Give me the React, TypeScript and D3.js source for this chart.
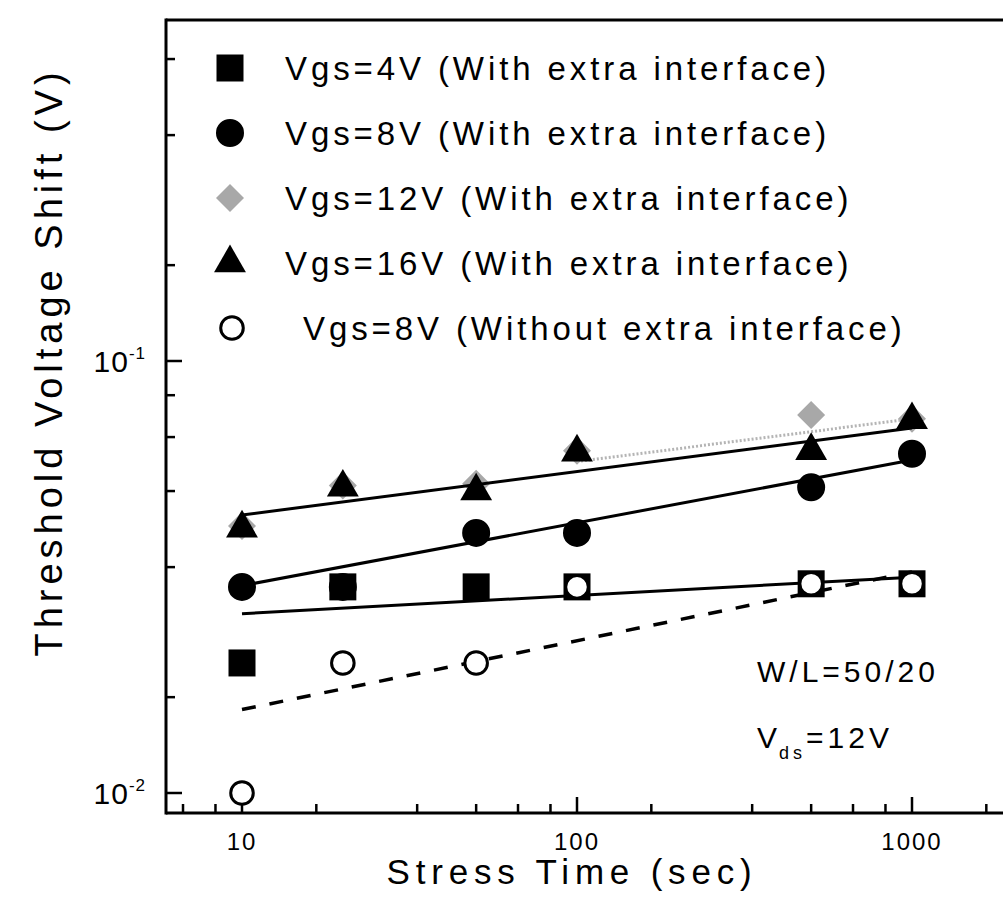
import React from 'react';
import * as d3 from 'd3';

// stress times (sec) and measured threshold voltage shift (V)
const stressTimes = [10, 20, 50, 100, 500, 1000];
const vgs4With = [0.020, 0.030, 0.030, 0.030, 0.0305, 0.0305];
const vgs8With = [0.030, 0.030, 0.040, 0.040, 0.051, 0.061];
const vgs12With = [0.0415, 0.0515, 0.052, 0.062, 0.075, 0.0735];
const vgs16With = [0.041, 0.051, 0.050, 0.0615, 0.062, 0.0731];
const vgs8Without = [0.010, 0.020, 0.020, 0.030, 0.0305, 0.0305];

// power-law fit lines, end points
const fitTimes = [10, 1000];
const fit12Times = [100, 1000];
const fit4With = [0.026, 0.0316];
const fit8With = [0.0302, 0.059];
const fit12With = [0.0585, 0.0735];
const fit16With = [0.044, 0.070];
const fit8Without = [0.0156, 0.0325];

const xMajorTicks = [10, 100, 1000];
const xTickLabels = ['10', '100', '1000'];
const yMajorTicks = [0.01, 0.1];
const yTickExponents = ['-2', '-1'];
const minorFactors = [10 / 6, 20 / 6, 30 / 6, 40 / 6, 50 / 6];

const legendLabels = [
  'Vgs=4V (With extra interface)',
  'Vgs=8V (With extra interface)',
  'Vgs=12V (With extra interface)',
  'Vgs=16V (With extra interface)',
  'Vgs=8V (Without extra interface)',
];

const W = 1003;
const H = 905;
const box = {left: 166, right: 1010, top: 20, bottom: 813};
const font = '"Liberation Sans", Arial, sans-serif';

const x = d3.scaleLog().domain([10, 1000]).range([242, 912]);
const y = d3.scaleLog().domain([0.01, 0.1]).range([793, 361]);

const sym = (type: d3.SymbolType, size: number) => d3.symbol().type(type).size(size)() as string;
const squarePath = sym(d3.symbolSquare, 729);
const circlePath = sym(d3.symbolCircle, 616);
const openCirclePath = sym(d3.symbolCircle, 400);
const diamondPath = sym(d3.symbolDiamond2, 500);
const trianglePath = sym(d3.symbolTriangle, 440);

const markers = [
  {d: squarePath, fill: '#000', stroke: 'none', sw: 0},
  {d: circlePath, fill: '#000', stroke: 'none', sw: 0},
  {d: diamondPath, fill: '#a8a8a8', stroke: 'none', sw: 0},
  {d: trianglePath, fill: '#000', stroke: 'none', sw: 0},
  {d: openCirclePath, fill: '#fff', stroke: '#000', sw: 3},
];

const fitLine = (times: number[]) => d3.line<number>()
  .x((_, i) => x(times[i]))
  .y(d => y(d));

function minorTicks(scale: d3.ScaleLogarithmic<number, number>, from: number, to: number, lo: number, hi: number) {
  const out: number[] = [];
  for (let n = from; n <= to; n++) {
    minorFactors.forEach(f => {
      const v = f * Math.pow(10, n);
      const p = scale(v);
      if (p >= Math.min(lo, hi) && p <= Math.max(lo, hi)) out.push(v);
    });
  }
  return out;
}

const Points = ({values, m}: {values: number[]; m: number}) => (
  <g>
    {values.map((v, i) => (
      <path key={i} d={markers[m].d} transform={`translate(${x(stressTimes[i])},${y(v)})`}
        fill={markers[m].fill} stroke={markers[m].stroke} strokeWidth={markers[m].sw}/>
    ))}
  </g>
);

export default function App() {
  const xMinor = minorTicks(x, 0, 3, box.left, box.right);
  const yMinor = minorTicks(y, -3, 0, box.bottom, box.top);
  const line = fitLine(fitTimes);

  return (
    <svg width={W} height={H} style={{position: 'absolute', left: 0, top: 0, background: '#fff'}}
      fontFamily={font}>
      <defs>
        <clipPath id="plot">
          <rect x={box.left} y={box.top} width={box.right - box.left} height={box.bottom - box.top}/>
        </clipPath>
      </defs>

      {/* frame */}
      <g stroke="#000" strokeWidth={3} fill="none">
        <line x1={box.left} x2={W} y1={box.top} y2={box.top}/>
        <line x1={box.left} x2={box.left} y1={box.top - 1.5} y2={box.bottom + 1.5}/>
        <line x1={box.left} x2={W} y1={box.bottom} y2={box.bottom}/>
      </g>

      {/* x ticks */}
      <g stroke="#000" strokeWidth={2.5}>
        {xMajorTicks.map(t => <line key={t} x1={x(t)} x2={x(t)} y1={box.bottom} y2={box.bottom - 16}/>)}
        {xMinor.map(t => <line key={t} x1={x(t)} x2={x(t)} y1={box.bottom} y2={box.bottom - 9}/>)}
      </g>
      {/* y ticks */}
      <g stroke="#000" strokeWidth={2.5}>
        {yMajorTicks.map(t => <line key={t} y1={y(t)} y2={y(t)} x1={box.left} x2={box.left + 16}/>)}
        {yMinor.map(t => <line key={t} y1={y(t)} y2={y(t)} x1={box.left} x2={box.left + 9}/>)}
      </g>

      {/* tick labels */}
      {xMajorTicks.map((t, i) => (
        <text key={t} x={x(t)} y={850} textAnchor="middle" fontSize={24} letterSpacing={2}>{xTickLabels[i]}</text>
      ))}
      {yMajorTicks.map((t, i) => (
        <text key={t} x={146} y={y(t) + 11} textAnchor="end" fontSize={30} letterSpacing={1}>
          10<tspan fontSize={17} dy={-13}>{yTickExponents[i]}</tspan>
        </text>
      ))}

      {/* axis titles */}
      <text x={572} y={884} textAnchor="middle" fontSize={35} letterSpacing={5.8}>Stress Time (sec)</text>
      <text transform="translate(62,362) rotate(-90)" textAnchor="middle" fontSize={38} letterSpacing={5}>
        Threshold Voltage Shift (V)
      </text>

      {/* data */}
      <g clipPath="url(#plot)">
        <Points values={vgs12With} m={2}/>
        <path d={fitLine(fit12Times)(fit12With) as string} fill="none" stroke="#b4b4b4" strokeWidth={3}
          strokeDasharray="2 2"/>
        <Points values={vgs8With} m={1}/>
        <Points values={vgs4With} m={0}/>
        <Points values={vgs16With} m={3}/>
        <path d={line(fit16With) as string} fill="none" stroke="#000" strokeWidth={3}/>
        <path d={line(fit8With) as string} fill="none" stroke="#000" strokeWidth={3}/>
        <path d={line(fit4With) as string} fill="none" stroke="#000" strokeWidth={3}/>
        <path d={line(fit8Without) as string} fill="none" stroke="#000" strokeWidth={3.5} strokeDasharray="14 14"/>
        <Points values={vgs8Without} m={4}/>
      </g>

      {/* legend */}
      {legendLabels.map((lab, i) => {
        const cy = 68 + 65 * i;
        return (
          <g key={lab}>
            <path d={markers[i].d} transform={`translate(${i === 4 ? 232 : 230},${cy})`}
              fill={markers[i].fill} stroke={markers[i].stroke} strokeWidth={markers[i].sw}/>
            <text x={i === 4 ? 303 : 285} y={cy + 12} fontSize={33} letterSpacing={3.9}>{lab}</text>
          </g>
        );
      })}

      {/* annotations */}
      <text x={757} y={682} fontSize={30} letterSpacing={4}>W/L=50/20</text>
      <text x={757} y={748} fontSize={30} letterSpacing={4}>
        V<tspan fontSize={18} dx={-2} dy={11}>ds</tspan><tspan dy={-11}>=12V</tspan>
      </text>
    </svg>
  );
}
